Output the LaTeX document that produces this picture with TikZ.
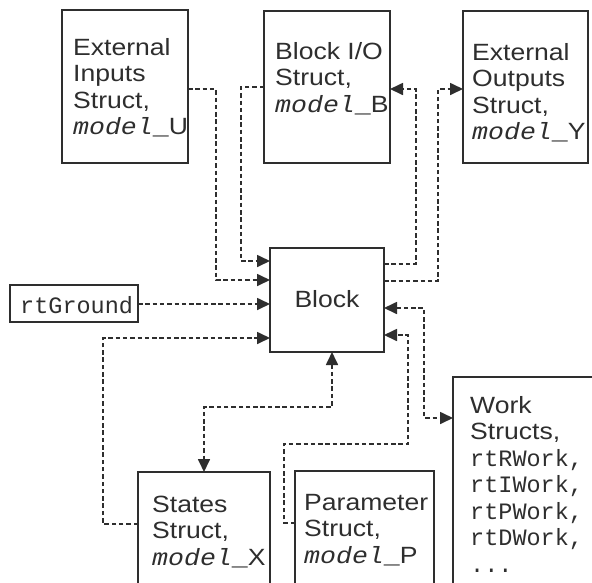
\documentclass[tikz,border=0pt]{standalone}
\usepackage{fontspec}
\setmainfont{Liberation Sans}[FakeStretch=1.13]
\setmonofont{Liberation Mono}
\newfontfamily\mdlfont{Liberation Mono}[FakeStretch=1.13]
\usetikzlibrary{arrows.meta}
\definecolor{ink}{HTML}{2E2E2E}
\newcommand{\stk}[1]{\begin{tabular}[t]{@{}l@{}}#1\end{tabular}}
\newcommand{\mdl}[1]{{\mdlfont\itshape model\upshape\_}#1}
\tikzset{
  box/.style={draw=ink, line width=2.2pt, inner sep=0pt, outer sep=0pt, fill=white},
  lbl/.style={anchor=base west, inner sep=0pt, text=ink},
  conn/.style={draw=ink, line width=1.7pt, dash pattern=on 4.5pt off 2.8pt},
  tip/.style={-{Triangle[length=13pt,width=12pt]}},
  tips/.style={{Triangle[length=13pt,width=12pt]}-{Triangle[length=13pt,width=12pt]}}
}
\begin{document}
\begin{tikzpicture}[x=1pt,y=-1pt,font=\fontsize{23.5}{26.5}\selectfont]
\useasboundingbox (0,0) rectangle (592,582);
\fill[white] (0,0) rectangle (592,582);
\clip (0,0) rectangle (592,582);
% boxes
\node[box, minimum width=126pt, minimum height=153pt] (inB) at (125,86.5) {};
\node[box, minimum width=126pt, minimum height=152pt] (ioB) at (327,87) {};
\node[box, minimum width=125pt, minimum height=152pt] (outB) at (525.5,87) {};
\node[box, minimum width=114pt, minimum height=104pt] (blk) at (327,300) {};
\node[box, minimum width=128pt, minimum height=37pt] (gnd) at (74,303.5) {};
\node[box, minimum width=132pt, minimum height=140pt] (stB) at (204,542) {};
\node[box, minimum width=139pt, minimum height=141pt] (parB) at (364.5,541.5) {};
\node[box, minimum width=167pt, minimum height=235pt] (wkB) at (536.5,494.5) {};
% texts
\node[lbl] (tIn) at (73,55) {\stk{External\\Inputs\\Struct,\\\mdl{U}}};
\node[lbl] (tIo) at (275,59) {\stk{Block I/O\\Struct,\\\mdl{B}}};
\node[lbl] (tOut) at (472,60) {\stk{External\\Outputs\\Struct,\\\mdl{Y}}};
\node[anchor=base, inner sep=0pt, text=ink] (tBlk) at (327,307) {Block};
\node[lbl] (tGnd) at (20,313) {\texttt{rtGround}};
\node[lbl] (tSt) at (152,512) {\stk{States\\Struct,\\\mdl{X}}};
\node[lbl] (tPar) at (304,510) {\stk{Parameter\\Struct,\\\mdl{P}}};
\node[lbl] (tWk) at (470,413) {\stk{Work\\Structs,\\\texttt{rtRWork,}\\\texttt{rtIWork,}\\\texttt{rtPWork,}\\\texttt{rtDWork,}\\\texttt{...}}};
% connectors
\draw[conn, tip] (inB.east|-0,89) -- (216,89) -- (216,280) -- (blk.west|-0,280);
\draw[conn, tip] (ioB.west|-0,87) -- (241,87) -- (241,261) -- (blk.west|-0,261);
\draw[conn, tip] (gnd.east|-0,304) -- (blk.west|-0,304);
\draw[conn, tip] (stB.west|-0,524) -- (103,524) -- (103,338) -- (blk.west|-0,338);
\draw[conn, tip] (blk.east|-0,264) -- (416,264) -- (416,89) -- (ioB.east|-0,89);
\draw[conn, tip] (blk.east|-0,281) -- (438,281) -- (438,89) -- (outB.west|-0,89);
\draw[conn, tips] (blk.south-|332,0) -- (332,407) -- (204,407) -- (stB.north);
\draw[conn, tip] (parB.west|-0,523) -- (284,523) -- (284,444) -- (408,444) -- (408,335) -- (blk.east|-0,335);
\draw[conn, tips] (blk.east|-0,308) -- (424,308) -- (424,418) -- (wkB.west|-0,418);
\end{tikzpicture}
\end{document}
